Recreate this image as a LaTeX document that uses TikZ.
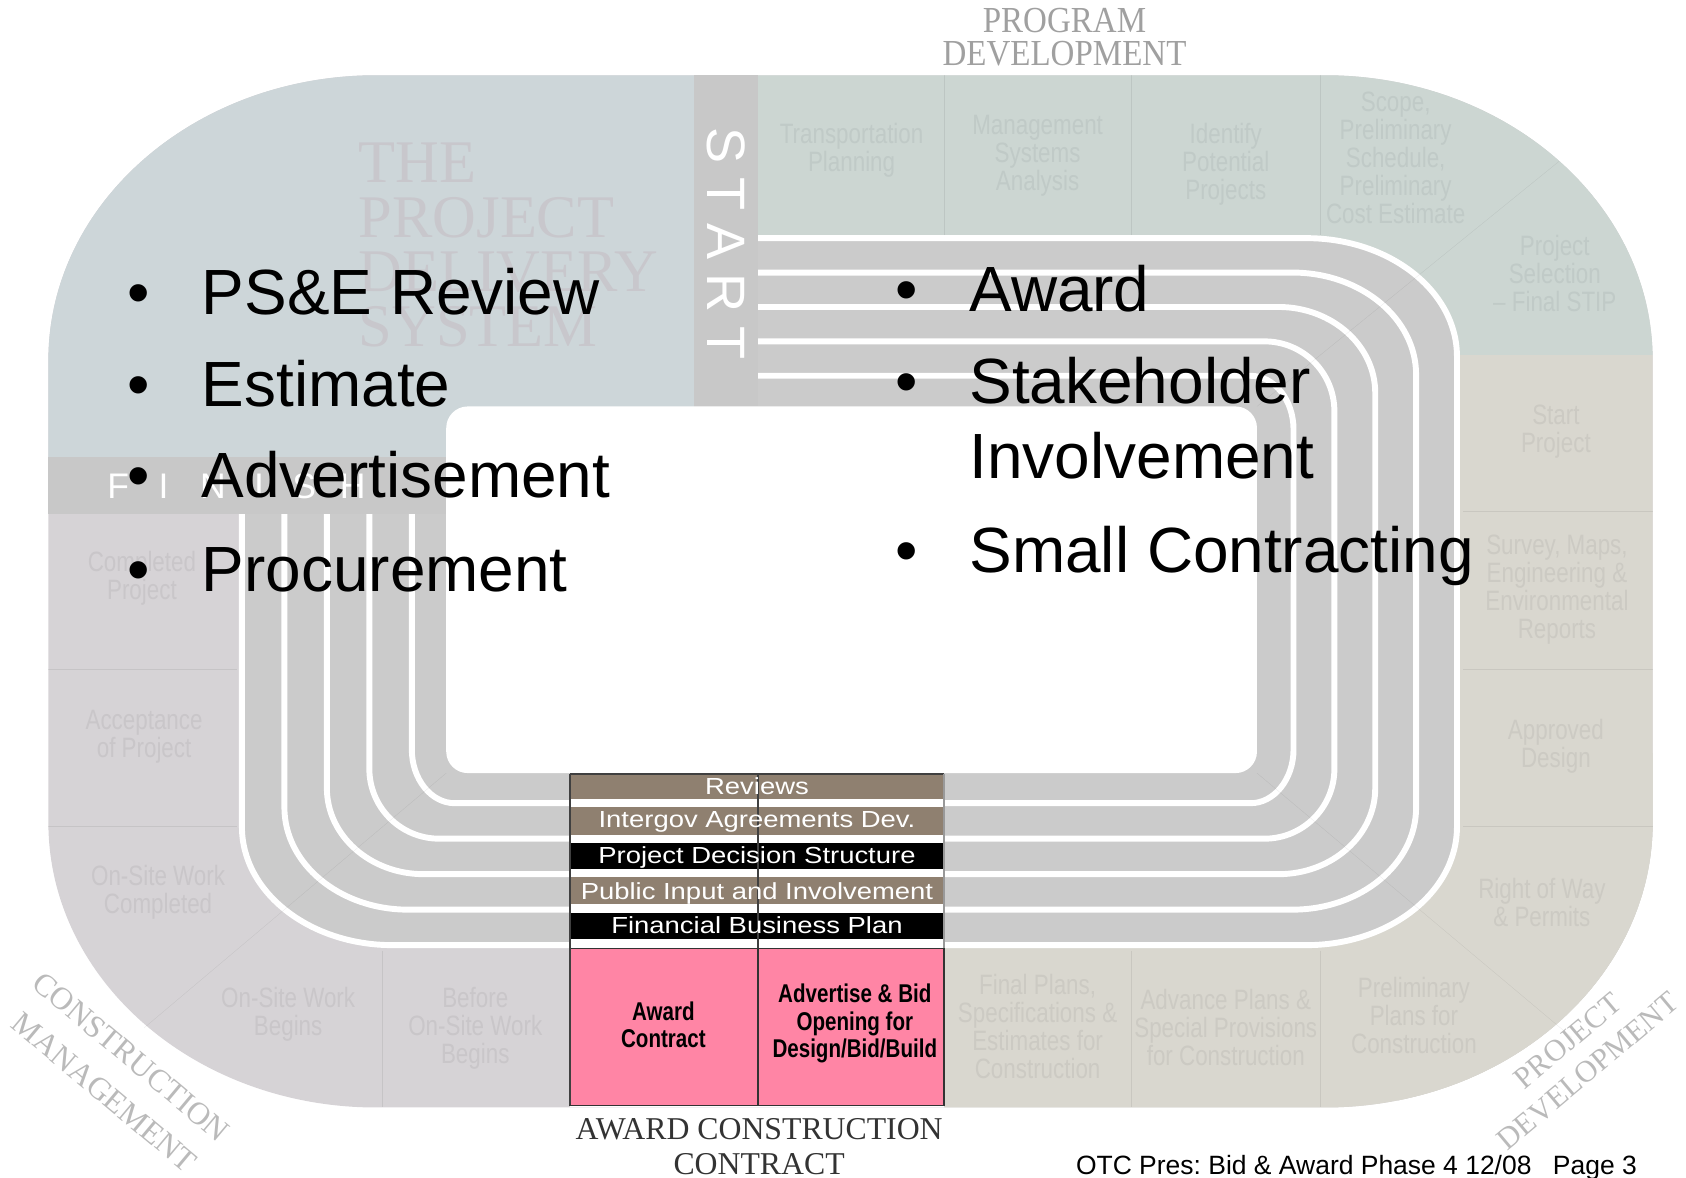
\documentclass[tikz,border=0pt]{standalone}
\usepackage{fontspec}
\setmainfont{Liberation Sans}
\newfontfamily\serifface{Liberation Serif}
\frenchspacing

\definecolor{bandblue}{RGB}{205,214,217}
\definecolor{bandgreen}{RGB}{204,214,210}
\definecolor{bandbeige}{RGB}{217,215,207}
\definecolor{bandmauve}{RGB}{214,211,214}
\definecolor{lanegray}{RGB}{203,203,203}
\definecolor{startgray}{RGB}{200,200,200}
\definecolor{barbrown}{RGB}{143,128,112}
\definecolor{awardpink}{RGB}{255,133,165}
\definecolor{txtgreen}{RGB}{192,202,199}
\definecolor{txtbeige}{RGB}{204,202,195}
\definecolor{txtmauve}{RGB}{201,198,201}
\definecolor{txtblue}{RGB}{200,199,204}
\definecolor{ringtext}{RGB}{160,160,160}

% rounded box with elliptic corners: xl, yt, xr, yb, rx, ry
\newcommand{\ovalpath}[6]{({#1+#5},#2) -- ({#3-#5},#2)
  arc[start angle=270,end angle=360,x radius=#5,y radius=#6] -- (#3,{#4-#6})
  arc[start angle=0,end angle=90,x radius=#5,y radius=#6] -- ({#1+#5},#4)
  arc[start angle=90,end angle=180,x radius=#5,y radius=#6] -- (#1,{#2+#6})
  arc[start angle=180,end angle=270,x radius=#5,y radius=#6] -- cycle}

\begin{document}
\begin{tikzpicture}[x=0.01cm, y=-0.01cm,
    lbl/.style = {font=\fontsize{7.4}{7.4}\selectfont, align=center, inner sep=0pt, xscale=0.8},
    divider/.style = {draw=black, draw opacity=0.07, line width=0.1pt},
    laneline/.style = {draw=white, line width=0.055cm},
    bartxt/.style = {font=\fontsize{6.15}{7}\selectfont, text=white, anchor=base, inner sep=0pt, xscale=1.18},
    pinktxt/.style = {font=\bfseries\fontsize{6.8}{7.23}\selectfont, align=center, inner sep=0pt, xscale=0.8},
    ringlbl/.style = {font=\serifface\fontsize{8.4}{9}\selectfont, text=ringtext, inner sep=0pt},
    bul/.style = {font=\fontsize{16.9}{20}\selectfont, anchor=base, inner sep=0pt},
    item/.style = {font=\fontsize{16.9}{20}\selectfont, anchor=base west, inner sep=0pt}]
\useasboundingbox (0,0) rectangle (1568,1095);

% outer ring
\fill[bandmauve] \ovalpath{45}{70}{1537}{1030}{305}{265};
\begin{scope}
  \clip \ovalpath{45}{70}{1537}{1030}{305}{265};
  \fill[bandgreen] (705,0) rectangle (1568,330);
  \fill[bandbeige] (1300,330) rectangle (1568,1095);
  \fill[bandbeige] (878,700) rectangle (1568,1095);
\end{scope}

% lanes
\fill[lanegray] \ovalpath{225}{221.5}{1355}{879}{140}{110};
\foreach \k in {0,...,4}{
  \pgfmathsetmacro{\xl}{225+39.5*\k}
  \pgfmathsetmacro{\xr}{1355-38*\k}
  \pgfmathsetmacro{\yt}{221.5+32*\k}
  \pgfmathsetmacro{\yb}{879-33*\k}
  \pgfmathsetmacro{\rx}{140-25*\k}
  \pgfmathsetmacro{\ry}{110-15*\k}
  \draw[laneline] \ovalpath{\xl}{\yt}{\xr}{\yb}{\rx}{\ry};
}

% top left corner, start and finish
\begin{scope}
  \clip \ovalpath{45}{70}{1537}{1030}{305}{265};
  \fill[bandblue] (0,0) rectangle (645,425);
\end{scope}
\fill[startgray] (645,70) rectangle (705,378);
\fill[startgray] (45,425) rectangle (415,478);
\fill[white, rounded corners=0.2cm] (415,378) rectangle (1169,719);

% section lines
\draw[divider] (878,70) -- (878,219) (1052,70) -- (1052,219) (1228,70) -- (1228,219);
\draw[divider] (1361,475) -- (1537,475) (1361,622) -- (1537,622) (1361,768) -- (1537,768);
\draw[divider] (45,622) -- (220,622) (45,768) -- (220,768);
\draw[divider] (355,884) -- (355,1030) (1052,884) -- (1052,1030) (1228,884) -- (1228,1030);
\draw[divider] (1169,378) -- (1450,150) (1169,719) -- (1462,965) (415,719) -- (134,956);

% faint step labels
\node[lbl, text=txtgreen] (tp) at (792,140) {Transportation\\Planning};
\node[lbl, text=txtgreen] (msa) at (965,145) {Management\\Systems\\Analysis};
\node[lbl, text=txtgreen] (ipp) at (1140,153) {Identify\\Potential\\Projects};
\node[lbl, text=txtgreen] (scope) at (1298,147) {Scope,\\Preliminary\\Schedule,\\Preliminary\\Cost Estimate};
\node[lbl, text=txtgreen] (psel) at (1446,254) {Project\\Selection\\-- Final STIP};
\node[lbl, text=txtbeige] (sp) at (1447,401) {Start\\Project};
\node[lbl, text=txtbeige] (survey) at (1448,548) {Survey, Maps,\\Engineering \&\\Environmental\\Reports};
\node[lbl, text=txtbeige] (adesign) at (1447,694) {Approved\\Design};
\node[lbl, text=txtbeige] (row) at (1434,839) {Right of Way\\\& Permits};
\node[lbl, text=txtbeige] (pplans) at (1315,944) {Preliminary\\Plans for\\Construction};
\node[lbl, text=txtbeige] (aplans) at (1140,956) {Advance Plans \&\\Special Provisions\\for Construction};
\node[lbl, text=txtbeige] (fplans) at (965,955) {Final Plans,\\Specifications \&\\Estimates for\\Construction};
\node[lbl, text=txtmauve] (before) at (442,956) {Before\\On-Site Work\\Begins};
\node[lbl, text=txtmauve] (osb) at (268,943) {On-Site Work\\Begins};
\node[lbl, text=txtmauve] (osc) at (147,830) {On-Site Work\\Completed};
\node[lbl, text=txtmauve] (accept) at (134,685) {Acceptance\\of Project};
\node[lbl, text=txtmauve] (done) at (132,538) {Completed\\Project};

% title in the corner
\foreach \w [count=\i] in {THE,PROJECT,DELIVERY,SYSTEM}
  \node[font=\serifface\fontsize{16}{16}\selectfont, text=txtblue, anchor=base west, inner sep=0pt]
    (pds\i) at (333,{170+50.7*(\i-1)}) {\w};

% START and FINISH
\foreach \y/\c [count=\i] in {135.5/S,180.3/T,225/A,272.5/R,318.8/T}
  \node[font=\fontsize{14.3}{15}\selectfont, text=white, rotate=-90, inner sep=0pt] (st\i) at (675,\y) {\c};
\foreach \x/\c [count=\i] in {110/F,152/I,198/N,241/I,283/S,328/H}
  \node[font=\fontsize{9.4}{10}\selectfont, text=white, inner sep=0pt] (fi\i) at (\x,452) {\c};

% award box
\fill[white] (530,720) rectangle (878,1030);
\fill[barbrown] (530,720) rectangle (878,743);
\fill[barbrown] (530,750.5) rectangle (878,776.5);
\fill[black] (530,783.7) rectangle (878,808.4);
\fill[barbrown] (530,816) rectangle (878,840.7);
\fill[black] (530,848.8) rectangle (878,873.5);
\filldraw[fill=awardpink, draw=black!80, line width=0.4pt] (530,882) rectangle (705,1028);
\filldraw[fill=awardpink, draw=black!80, line width=0.4pt] (705,882) rectangle (878,1028);
\draw[black!75, line width=0.4pt] (530,720) -- (878,720) (530,720) -- (530,1028) (705,720) -- (705,882);
\draw[black!40, line width=0.4pt] (878,720) -- (878,882);
\node[bartxt] (rev) at (704,739) {Reviews};
\node[bartxt] (igov) at (704,769.4) {Intergov Agreements Dev.};
\node[bartxt] (pdec) at (704,802.9) {Project Decision Structure};
\node[bartxt] (pub) at (704,836.4) {Public Input and Involvement};
\node[bartxt] (fbp) at (704,868.6) {Financial Business Plan};
\node[pinktxt] (award) at (617,953) {Award\\Contract};
\node[pinktxt] (advert) at (795,952) {Advertise \& Bid\\Opening for\\Design/Bid/Build};

% phase names round the ring
\node[ringlbl, anchor=base, xscale=0.9, font=\serifface\fontsize{9.7}{10}\selectfont] (prog1) at (990,30) {PROGRAM};
\node[ringlbl, anchor=base, xscale=0.9, font=\serifface\fontsize{9.7}{10}\selectfont] (prog2) at (990,60.5) {DEVELOPMENT};
\node[ringlbl, text=black!80, anchor=base] (acc1) at (706,1060) {AWARD CONSTRUCTION};
\node[ringlbl, text=black!80, anchor=base] (acc2) at (706,1092) {CONTRACT};
\node[ringlbl, text=black!27, rotate=-40] (cm1) at (122,983) {CONSTRUCTION};
\node[ringlbl, text=black!27, rotate=-40] (cm2) at (97,1016) {MANAGEMENT};
\node[ringlbl, text=black!27, rotate=40, font=\serifface\fontsize{8.1}{9}\selectfont] (pd1) at (1458,968) {PROJECT};
\node[ringlbl, text=black!27, rotate=40, font=\serifface\fontsize{8.1}{9}\selectfont] (pd2) at (1477,996) {DEVELOPMENT};

% bullets
\node[bul] (b1) at (129,292.6) {•};
\node[item] (i1) at (187,292.6) {PS\&E Review};
\node[bul] (b2) at (129,378) {•};
\node[item] (i2) at (187,378) {Estimate};
\node[bul] (b3) at (129,463) {•};
\node[item] (i3) at (187,463) {Advertisement};
\node[bul] (b4) at (129,550) {•};
\node[item] (i4) at (187,550) {Procurement};
\node[bul] (b5) at (843,290) {•};
\node[item] (i5) at (901,290) {Award};
\node[bul] (b6) at (843,375.5) {•};
\node[item] (i6) at (901,375.5) {Stakeholder};
\node[item] (i6b) at (901,445) {Involvement};
\node[bul] (b7) at (843,532) {•};
\node[item] (i7) at (901,532) {Small Contracting};

% footer
\node[font=\fontsize{7}{8}\selectfont, anchor=base west, inner sep=0pt] (foot) at (1000,1092) {OTC Pres: Bid \& Award Phase 4 12/08};
\node[font=\fontsize{7}{8}\selectfont, anchor=base east, inner sep=0pt] (page) at (1523,1092) {Page 3};
\end{tikzpicture}
\end{document}
